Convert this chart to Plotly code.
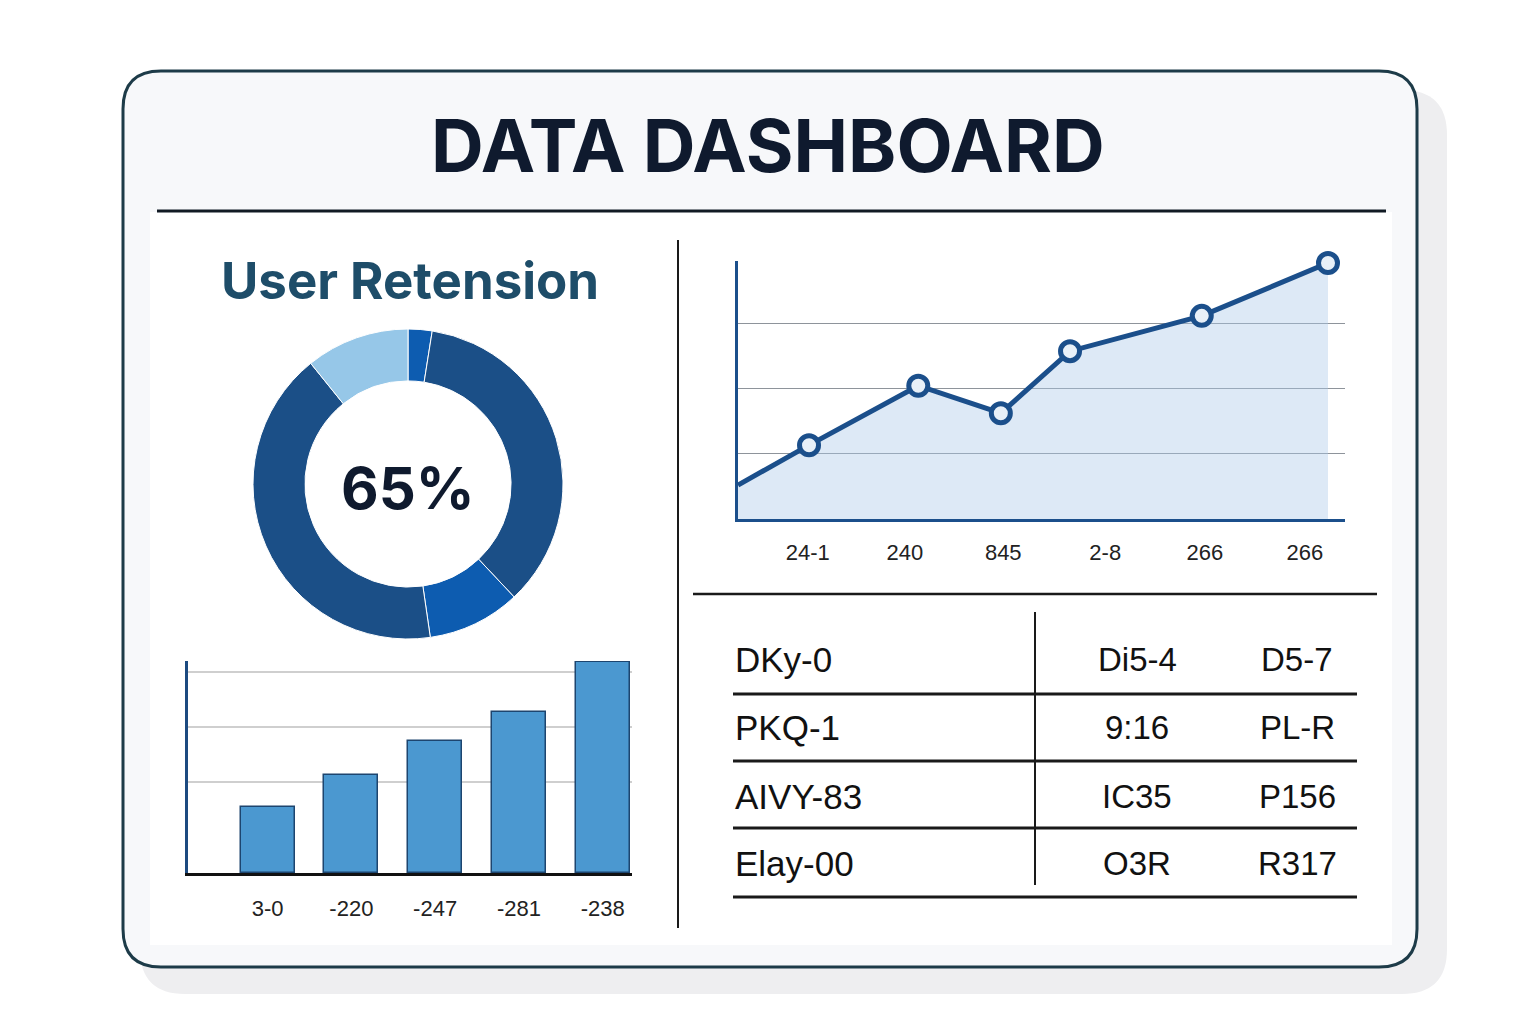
import plotly.graph_objects as go

W, H = 1536, 1024

# ---------------- data ----------------
title_text = "DATA DASHBOARD"
donut_title = "User Retension"
donut_center_label = "65%"
donut_values = [2.5, 35.5, 9.7, 41.5, 10.8]
donut_colors = ["#0d5cb0", "#1b4f87", "#0d5cb0", "#1b4f87", "#96c7e8"]

line_x = [0.0, 1.17, 2.97, 4.33, 5.47, 7.64, 9.72]
line_y = [0.52, 1.13, 2.04, 1.62, 2.57, 3.11, 3.92]
line_tick_pos = [1.15, 2.75, 4.37, 6.05, 7.69, 9.34]
line_tick_labels = ["24-1", "240", "845", "2-8", "266", "266"]

bar_x = [0, 1, 2, 3, 4]
bar_values = [66, 98, 132, 161, 211]
bar_tick_labels = ["3-0", "-220", "-247", "-281", "-238"]
bar_grid_vals = [91, 146, 201]

table_col1 = ["DKy-0", "PKQ-1", "AIVY-83", "Elay-00"]
table_col2 = ["Di5-4", "9:16", "IC35", "O3R"]
table_col3 = ["D5-7", "PL-R", "P156", "R317"]


# ---------------- helpers (pixel -> paper) ----------------
def px(x):
    return x / W


def py(y):
    return 1 - y / H


def rrect(x0, y0, x1, y1, r):
    pts = [
        ("M", [(x0 + r, y0)]),
        ("L", [(x1 - r, y0)]),
        ("Q", [(x1, y0), (x1, y0 + r)]),
        ("L", [(x1, y1 - r)]),
        ("Q", [(x1, y1), (x1 - r, y1)]),
        ("L", [(x0 + r, y1)]),
        ("Q", [(x0, y1), (x0, y1 - r)]),
        ("L", [(x0, y0 + r)]),
        ("Q", [(x0, y0), (x0 + r, y0)]),
    ]
    s = ""
    for cmd, ps in pts:
        s += cmd + " " + " ".join(f"{px(a):.5f},{py(b):.5f}" for a, b in ps) + " "
    return s + "Z"


def hline(x0, x1, y, color, width):
    return dict(type="line", xref="paper", yref="paper", x0=px(x0), x1=px(x1),
                y0=py(y), y1=py(y), line=dict(color=color, width=width), layer="above")


def vline(x, y0, y1, color, width):
    return dict(type="line", xref="paper", yref="paper", x0=px(x), x1=px(x),
                y0=py(y0), y1=py(y1), line=dict(color=color, width=width), layer="above")


fig = go.Figure()

# ---------------- donut ----------------
fig.add_trace(go.Pie(
    values=donut_values,
    sort=False,
    direction="clockwise",
    rotation=0,
    hole=0.665,
    marker=dict(colors=donut_colors, line=dict(color="#ffffff", width=1)),
    textinfo="none",
    showlegend=False,
    domain=dict(x=[px(253), px(563)], y=[py(639), py(329)]),
))

# ---------------- line / area chart ----------------
fig.add_trace(go.Scatter(
    x=line_x, y=line_y, mode="lines",
    line=dict(color="#1b4f8b", width=5),
    fill="tozeroy", fillcolor="rgba(170,200,232,0.40)",
    xaxis="x", yaxis="y", showlegend=False, cliponaxis=False,
))
fig.add_trace(go.Scatter(
    x=line_x[1:], y=line_y[1:], mode="markers",
    marker=dict(size=19, color="#e8f0f8", line=dict(color="#1b4f8b", width=5)),
    xaxis="x", yaxis="y", showlegend=False, cliponaxis=False,
))

# ---------------- bar chart ----------------
fig.add_trace(go.Bar(
    x=bar_x, y=bar_values, width=0.645,
    marker=dict(color="#4b98d0", line=dict(color="#1d456f", width=1.5)),
    xaxis="x2", yaxis="y2", showlegend=False,
))

# ---------------- shapes ----------------
shapes = [
    # shadow
    dict(type="path", xref="paper", yref="paper", path=rrect(140, 90, 1447, 994, 45),
         fillcolor="#eeeef0", line=dict(width=0), layer="below"),
    # card
    dict(type="path", xref="paper", yref="paper", path=rrect(123, 71, 1417, 967, 38),
         fillcolor="#f7f8fa", line=dict(color="#1d3b48", width=3), layer="below"),
    # inner panel
    dict(type="rect", xref="paper", yref="paper", x0=px(150), x1=px(1392),
         y0=py(945), y1=py(212), fillcolor="#ffffff", line=dict(width=0), layer="below"),
    hline(157, 1386, 211, "#111a24", 3),
    vline(678, 240, 928, "#1a1a1a", 2),
    hline(693, 1377, 594, "#1a1a1a", 2.5),
    vline(1035, 612, 885, "#1a1a1a", 2),
]
for yy in [694, 761, 828, 897]:
    shapes.append(hline(733, 1357, yy, "#1a1a1a", 3))

# ---------------- annotations ----------------
ann = [
    dict(x=px(768), y=py(145), text=f"<b>{title_text}</b>", showarrow=False,
         xref="paper", yref="paper", xanchor="center", yanchor="middle",
         font=dict(family="Inter, Liberation Sans, Arial", size=73, color="#0f1a2e")),
    dict(x=px(410), y=py(280), text=f"<b>{donut_title}</b>", showarrow=False,
         xref="paper", yref="paper", xanchor="center", yanchor="middle",
         font=dict(family="Inter, Liberation Sans, Arial", size=51, color="#1e4d69")),
    dict(x=px(408), y=py(488), text=f"<b>{donut_center_label}</b>", showarrow=False,
         xref="paper", yref="paper", xanchor="center", yanchor="middle",
         font=dict(family="Inter, Liberation Sans, Arial", size=58, color="#0f1a2e")),
]
row_y = [659, 727, 796, 863]
for i, yy in enumerate(row_y):
    ann.append(dict(x=px(733), y=py(yy), text=table_col1[i], showarrow=False,
                    xref="paper", yref="paper", xanchor="left", yanchor="middle",
                    font=dict(family="Liberation Sans, Arial", size=35, color="#111111")))
    ann.append(dict(x=px(1137), y=py(yy), text=table_col2[i], showarrow=False,
                    xref="paper", yref="paper", xanchor="center", yanchor="middle",
                    font=dict(family="Liberation Sans, Arial", size=33, color="#111111")))
    ann.append(dict(x=px(1297), y=py(yy), text=table_col3[i], showarrow=False,
                    xref="paper", yref="paper", xanchor="center", yanchor="middle",
                    font=dict(family="Liberation Sans, Arial", size=33, color="#111111")))

fig.update_layout(
    width=W, height=H,
    margin=dict(l=0, r=0, t=0, b=0),
    paper_bgcolor="#ffffff",
    plot_bgcolor="rgba(0,0,0,0)",
    shapes=shapes,
    annotations=ann,
    bargap=0,
    xaxis=dict(domain=[px(738), px(1345)], range=[0, 10], showgrid=False, zeroline=False,
               showline=True, linecolor="#1b4f8b", linewidth=3,
               tickmode="array", tickvals=line_tick_pos, ticktext=line_tick_labels,
               ticks="", ticklabelstandoff=12,
               tickfont=dict(family="Liberation Sans, Arial", size=22, color="#222222"),
               anchor="y", fixedrange=True),
    yaxis=dict(domain=[py(519), py(261)], range=[0, 3.95], showgrid=True,
               gridcolor="#8e949b", gridwidth=1, zeroline=False,
               showline=True, linecolor="#1b4f8b", linewidth=3,
               tickmode="array", tickvals=[1, 2, 3], showticklabels=False, ticks="",
               anchor="x", fixedrange=True),
    xaxis2=dict(domain=[px(188), px(632)], range=[-0.95, 4.35], showgrid=False, zeroline=False,
                showline=True, linecolor="#111111", linewidth=3,
                tickmode="array", tickvals=bar_x, ticktext=bar_tick_labels,
                ticks="", ticklabelstandoff=14,
                tickfont=dict(family="Liberation Sans, Arial", size=22, color="#222222"),
                anchor="y2", fixedrange=True),
    yaxis2=dict(domain=[py(873), py(661)], range=[0, 212], showgrid=True,
                gridcolor="#cfcfcf", gridwidth=2, zeroline=False,
                showline=True, linecolor="#1c4a80", linewidth=3,
                tickmode="array", tickvals=bar_grid_vals, showticklabels=False, ticks="",
                anchor="x2", fixedrange=True),
)

fig.write_html("out.html")
